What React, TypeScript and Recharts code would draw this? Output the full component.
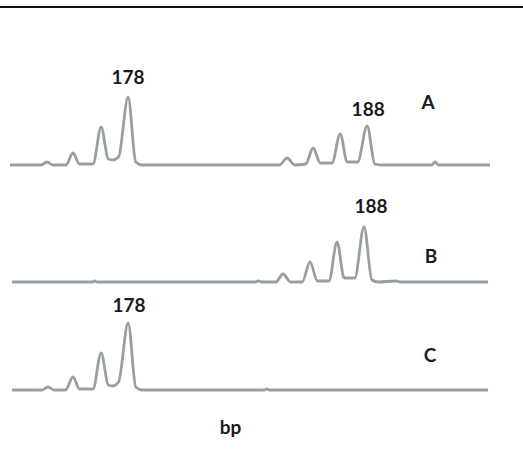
import { LineChart, Line, XAxis, YAxis, ReferenceDot } from 'recharts';

/* -------------------------------------------------------------------------- */
/*  Data (size in bp vs. signal)                                              */
/* -------------------------------------------------------------------------- */

const traceA = [
  { bp: 173.06, rfu: 0 },
  { bp: 174.35, rfu: 0 },
  { bp: 174.61, rfu: 3 },
  { bp: 174.85, rfu: 0 },
  { bp: 175.4, rfu: 0 },
  { bp: 175.69, rfu: 12 },
  { bp: 175.97, rfu: 1 },
  { bp: 176.53, rfu: 1 },
  { bp: 176.87, rfu: 38 },
  { bp: 177.17, rfu: 6 },
  { bp: 177.35, rfu: 5 },
  { bp: 177.6, rfu: 8 },
  { bp: 178.0, rfu: 68 },
  { bp: 178.32, rfu: 3 },
  { bp: 178.58, rfu: 0 },
  { bp: 184.33, rfu: 0 },
  { bp: 184.65, rfu: 7 },
  { bp: 184.97, rfu: 0 },
  { bp: 185.43, rfu: 1 },
  { bp: 185.74, rfu: 17 },
  { bp: 186.04, rfu: 2 },
  { bp: 186.53, rfu: 2 },
  { bp: 186.87, rfu: 31 },
  { bp: 187.17, rfu: 3 },
  { bp: 187.6, rfu: 3 },
  { bp: 188.0, rfu: 39 },
  { bp: 188.32, rfu: 1 },
  { bp: 188.6, rfu: 0 },
  { bp: 190.7, rfu: 0 },
  { bp: 190.84, rfu: 3 },
  { bp: 190.98, rfu: 0 },
  { bp: 193.14, rfu: 0 },
];

const traceB = [
  { bp: 173.14, rfu: 0 },
  { bp: 176.5, rfu: 0 },
  { bp: 176.6, rfu: 1 },
  { bp: 176.7, rfu: 0 },
  { bp: 183.3, rfu: 0 },
  { bp: 183.45, rfu: 1 },
  { bp: 183.6, rfu: 0 },
  { bp: 184.18, rfu: 0 },
  { bp: 184.48, rfu: 8 },
  { bp: 184.8, rfu: 0 },
  { bp: 185.28, rfu: 0 },
  { bp: 185.61, rfu: 20 },
  { bp: 185.92, rfu: 1 },
  { bp: 186.4, rfu: 1 },
  { bp: 186.74, rfu: 40 },
  { bp: 187.04, rfu: 4 },
  { bp: 187.48, rfu: 4 },
  { bp: 187.87, rfu: 55 },
  { bp: 188.2, rfu: 2 },
  { bp: 188.47, rfu: 0 },
  { bp: 189.2, rfu: 1 },
  { bp: 189.4, rfu: 0 },
  { bp: 193.06, rfu: 0 },
];

const traceC = [
  { bp: 173.14, rfu: 0 },
  { bp: 174.4, rfu: 0 },
  { bp: 174.65, rfu: 3 },
  { bp: 174.9, rfu: 0 },
  { bp: 175.38, rfu: 0 },
  { bp: 175.69, rfu: 13 },
  { bp: 175.97, rfu: 1 },
  { bp: 176.53, rfu: 1 },
  { bp: 176.87, rfu: 37 },
  { bp: 177.17, rfu: 5 },
  { bp: 177.35, rfu: 4 },
  { bp: 177.6, rfu: 8 },
  { bp: 178.0, rfu: 67 },
  { bp: 178.32, rfu: 3 },
  { bp: 178.58, rfu: 0 },
  { bp: 183.7, rfu: 0 },
  { bp: 183.8, rfu: 1 },
  { bp: 183.9, rfu: 0 },
  { bp: 193.06, rfu: 0 },
];

const alleleLabels = ['178', '188'];
const traceNames = ['A', 'B', 'C'];

/* -------------------------------------------------------------------------- */
/*  Styles                                                                    */
/* -------------------------------------------------------------------------- */

const X_DOMAIN: [number, number] = [172.64, 194.52];
const LINE = '#979fa3';
const INK = '#1b1b22';
const FONT = 'Lato, "Open Sans", sans-serif';
const labelStyle = { fill: INK, fontSize: 19, fontWeight: 700, fontFamily: FONT };

type Pt = { bp: number; rfu: number };

function Trace({
  data,
  top,
  height,
  bottom = 5,
  children,
  showBp = false,
}: {
  data: Pt[];
  top: number;
  height: number;
  bottom?: number;
  children?: React.ReactNode;
  showBp?: boolean;
}) {
  return (
    <div style={{ position: 'absolute', left: 0, top }}>
      <LineChart width={523} height={height} data={data} margin={{ top: 5, right: 0, bottom, left: 0 }}>
        <XAxis
          dataKey="bp"
          type="number"
          domain={X_DOMAIN}
          allowDataOverflow
          hide={!showBp}
          tick={false}
          axisLine={false}
          tickLine={false}
          height={50}
          label={
            showBp
              ? { value: 'bp', position: 'insideBottom', offset: 6, dx: -31, style: labelStyle }
              : undefined
          }
        />
        <YAxis type="number" domain={[0, 100]} hide />
        <Line
          type="monotone"
          dataKey="rfu"
          stroke={LINE}
          strokeWidth={2.8}
          dot={false}
          isAnimationActive={false}
        />
        {children}
      </LineChart>
    </div>
  );
}

function Tag({ x, y, text, pos = 'top', offset = 12, dx = 0 }: any) {
  return (
    <ReferenceDot
      x={x}
      y={y}
      r={0}
      fill="none"
      stroke="none"
      label={{ value: text, position: pos, offset, dx, style: labelStyle }}
    />
  );
}

export default function App() {
  return (
    <div
      style={{
        position: 'absolute',
        left: 0,
        top: 0,
        width: 523,
        height: 461,
        background: '#fff',
        overflow: 'hidden',
      }}
    >
      <div style={{ position: 'absolute', left: 0, top: 6, width: 523, height: 2, background: '#111' }} />

      <Trace data={traceA} top={60} height={110}>
        {Tag({ x: 178.0, y: 68, text: alleleLabels[0], offset: 13 })}
        {Tag({ x: 188.0, y: 39, text: alleleLabels[1], offset: 10, dx: 1 })}
        {Tag({ x: 190.55, y: 63, text: traceNames[0], pos: 'center' })}
      </Trace>

      <Trace data={traceB} top={177} height={110}>
        {Tag({ x: 187.87, y: 55, text: alleleLabels[1], offset: 14, dx: 7 })}
        {Tag({ x: 190.67, y: 26, text: traceNames[1], pos: 'center' })}
      </Trace>

      <Trace data={traceC} top={285} height={155} bottom={0} showBp>
        {Tag({ x: 178.0, y: 67, text: alleleLabels[0], offset: 11, dx: 1 })}
        {Tag({ x: 190.63, y: 35, text: traceNames[2], pos: 'center' })}
      </Trace>
    </div>
  );
}
